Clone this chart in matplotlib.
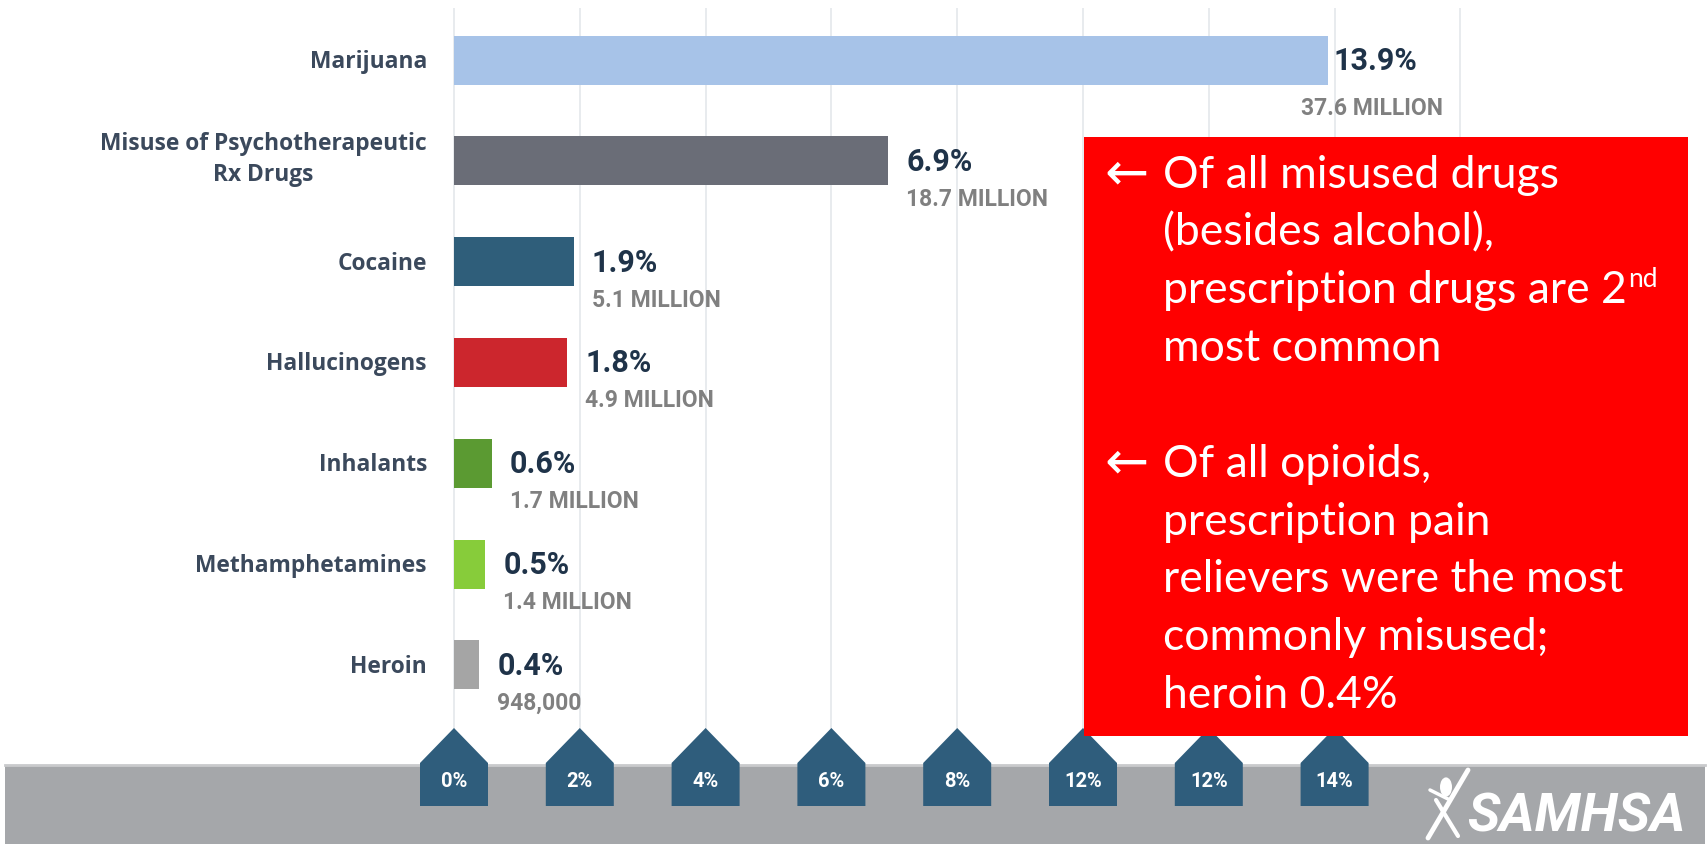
import matplotlib
matplotlib.use("Agg")
import matplotlib.pyplot as plt
from matplotlib import font_manager
from matplotlib.patches import Rectangle, Polygon, Circle


# Past-year use among people aged 12 or older
drugs = ["Marijuana", "Misuse of Psychotherapeutic\nRx Drugs", "Cocaine",
         "Hallucinogens", "Inhalants", "Methamphetamines", "Heroin"]
pct = [13.9, 6.9, 1.9, 1.8, 0.6, 0.5, 0.4]
users = ["37.6 MILLION", "18.7 MILLION", "5.1 MILLION", "4.9 MILLION",
         "1.7 MILLION", "1.4 MILLION", "948,000"]
bar_colors = ["#a7c3e8", "#6a6d77", "#2f5e7a", "#cc262d",
              "#5b9a32", "#87cc3a", "#a5a5a5"]
tick_pos = [0, 2, 4, 6, 8, 10, 12, 14]
tick_labels = ["0%", "2%", "4%", "6%", "8%", "12%", "12%", "14%"]

note_1 = ["Of all misused drugs", "(besides alcohol),",
          "prescription drugs are 2", "most common"]
note_2 = ["Of all opioids,", "prescription pain", "relievers were the most",
          "commonly misused;", "heroin 0.4%"]

# layout in pixels
W, H = 1708, 844
X0 = 454          # pixel column of 0%
PX_PER_PCT = 62.9
ROW0 = 60         # pixel row of the first bar centre
ROW_PITCH = 100.8


def px_x(p):
    return (p - X0) / PX_PER_PCT


def px_y(p):
    return (p - ROW0) / ROW_PITCH


available = {f.name for f in font_manager.fontManager.ttflist}
if "Liberation Sans Narrow" in available:
    NARROW, PCT_SIZE, USR_SIZE, TICK_SIZE = "Liberation Sans Narrow", 25, 19.5, 15.5
else:
    NARROW, PCT_SIZE, USR_SIZE, TICK_SIZE = "Roboto", 22, 16.5, 14.5


fig = plt.figure(figsize=(W / 100, H / 100), dpi=100)
ax = fig.add_axes([0, 0, 1, 1])
ax.set_xlim(px_x(0), px_x(W))
ax.set_ylim(px_y(H), px_y(0))
ax.axis("off")

# light vertical grid
ax.vlines(range(0, 17, 2), px_y(8), px_y(735), colors="#e4e7eb", lw=1.2, zorder=1)

ax.barh(range(len(drugs)), pct, height=49 / ROW_PITCH, color=bar_colors, zorder=2)

for i, (name, v, u) in enumerate(zip(drugs, pct, users)):
    if "\n" in name:
        ax.text(px_x(427), i - 1 / ROW_PITCH, name, ha="right", va="center",
                multialignment="center", fontsize=16.4, fontweight="bold",
                family="Open Sans", color="#3b495c", linespacing=1.4)
    else:
        ax.text(px_x(427), i + 8 / ROW_PITCH, name, ha="right", va="baseline",
                fontsize=16.4, fontweight="bold", family="Open Sans", color="#3b495c")
    xl = v + (5 if i == 0 else 18) / PX_PER_PCT
    ax.text(xl, i + 10 / ROW_PITCH, f"{v}%", ha="left", va="baseline",
            fontsize=PCT_SIZE, fontweight="bold", family=NARROW, color="#1f3349")
    if i == 0:
        ax.text(v + 115 / PX_PER_PCT, i + 55 / ROW_PITCH, u, ha="right", va="baseline",
                fontsize=USR_SIZE, fontweight="bold", family=NARROW, color="#808080")
    else:
        ax.text(xl, i + 45 / ROW_PITCH, u, ha="left", va="baseline",
                fontsize=USR_SIZE, fontweight="bold", family=NARROW, color="#808080")

# footer band
ax.add_patch(Rectangle((px_x(5), px_y(765)), px_x(1705) - px_x(5), px_y(H) - px_y(765),
                       facecolor="#a5a7aa", edgecolor="none", zorder=3))
ax.plot([px_x(5), px_x(1705)], [px_y(765), px_y(765)], color="#c9cacc", lw=2, zorder=3)

# tick markers
hw = 34 / PX_PER_PCT
for x, lab in zip(tick_pos, tick_labels):
    verts = [(x - hw, px_y(806)), (x - hw, px_y(763)), (x, px_y(728)),
             (x + hw, px_y(763)), (x + hw, px_y(806))]
    ax.add_patch(Polygon(verts, closed=True, facecolor="#2f5d7c", edgecolor="none", zorder=4))
    ax.text(x, px_y(781), lab, ha="center", va="center", fontsize=TICK_SIZE,
            fontweight="bold", family=NARROW, color="white", zorder=5)

# logo
ax.text(px_x(1686), px_y(831), "SAMHSA", ha="right", va="baseline", fontsize=39,
        fontweight="bold", style="italic", family=NARROW, color="white", zorder=5)
ax.add_patch(Circle((px_x(1446), px_y(787)), 6 / PX_PER_PCT, facecolor="white",
                    edgecolor="none", zorder=5))
ax.plot([px_x(1428), px_x(1468)], [px_y(838), px_y(770)], color="white", lw=3.5,
        solid_capstyle="round", zorder=5)
ax.plot([px_x(1436), px_x(1458)], [px_y(800), px_y(836)], color="white", lw=3,
        solid_capstyle="round", zorder=5)
ax.plot([px_x(1430), px_x(1450)], [px_y(790), px_y(800)], color="white", lw=2.5,
        solid_capstyle="round", zorder=5)

# callout box
ax.add_patch(Rectangle((px_x(1084), px_y(137)), px_x(1688) - px_x(1084), px_y(736) - px_y(137),
                       facecolor="#ff0000", edgecolor="none", zorder=6))

LINE = 57.7
renderer = fig.canvas.get_renderer()
for start, lines in [(188, note_1), (477, note_2)]:
    ax.text(px_x(1104), px_y(start - 14), "\u2190", ha="left", va="center", fontsize=38,
            family="DejaVu Sans", color="white", zorder=7)
    for k, line in enumerate(lines):
        t = ax.text(px_x(1163), px_y(start + k * LINE), line, ha="left", va="baseline",
                    fontsize=32, family="Lato", color="white", zorder=7)
        if line.endswith(" 2"):
            bb = t.get_window_extent(renderer)
            xs = ax.transData.inverted().transform((bb.x1 + 1, 0))[0]
            ax.text(xs, px_y(start + k * LINE - 16), "nd", ha="left", va="baseline",
                    fontsize=19, family="Lato", color="white", zorder=7)

fig.savefig("out.png", dpi=100)
